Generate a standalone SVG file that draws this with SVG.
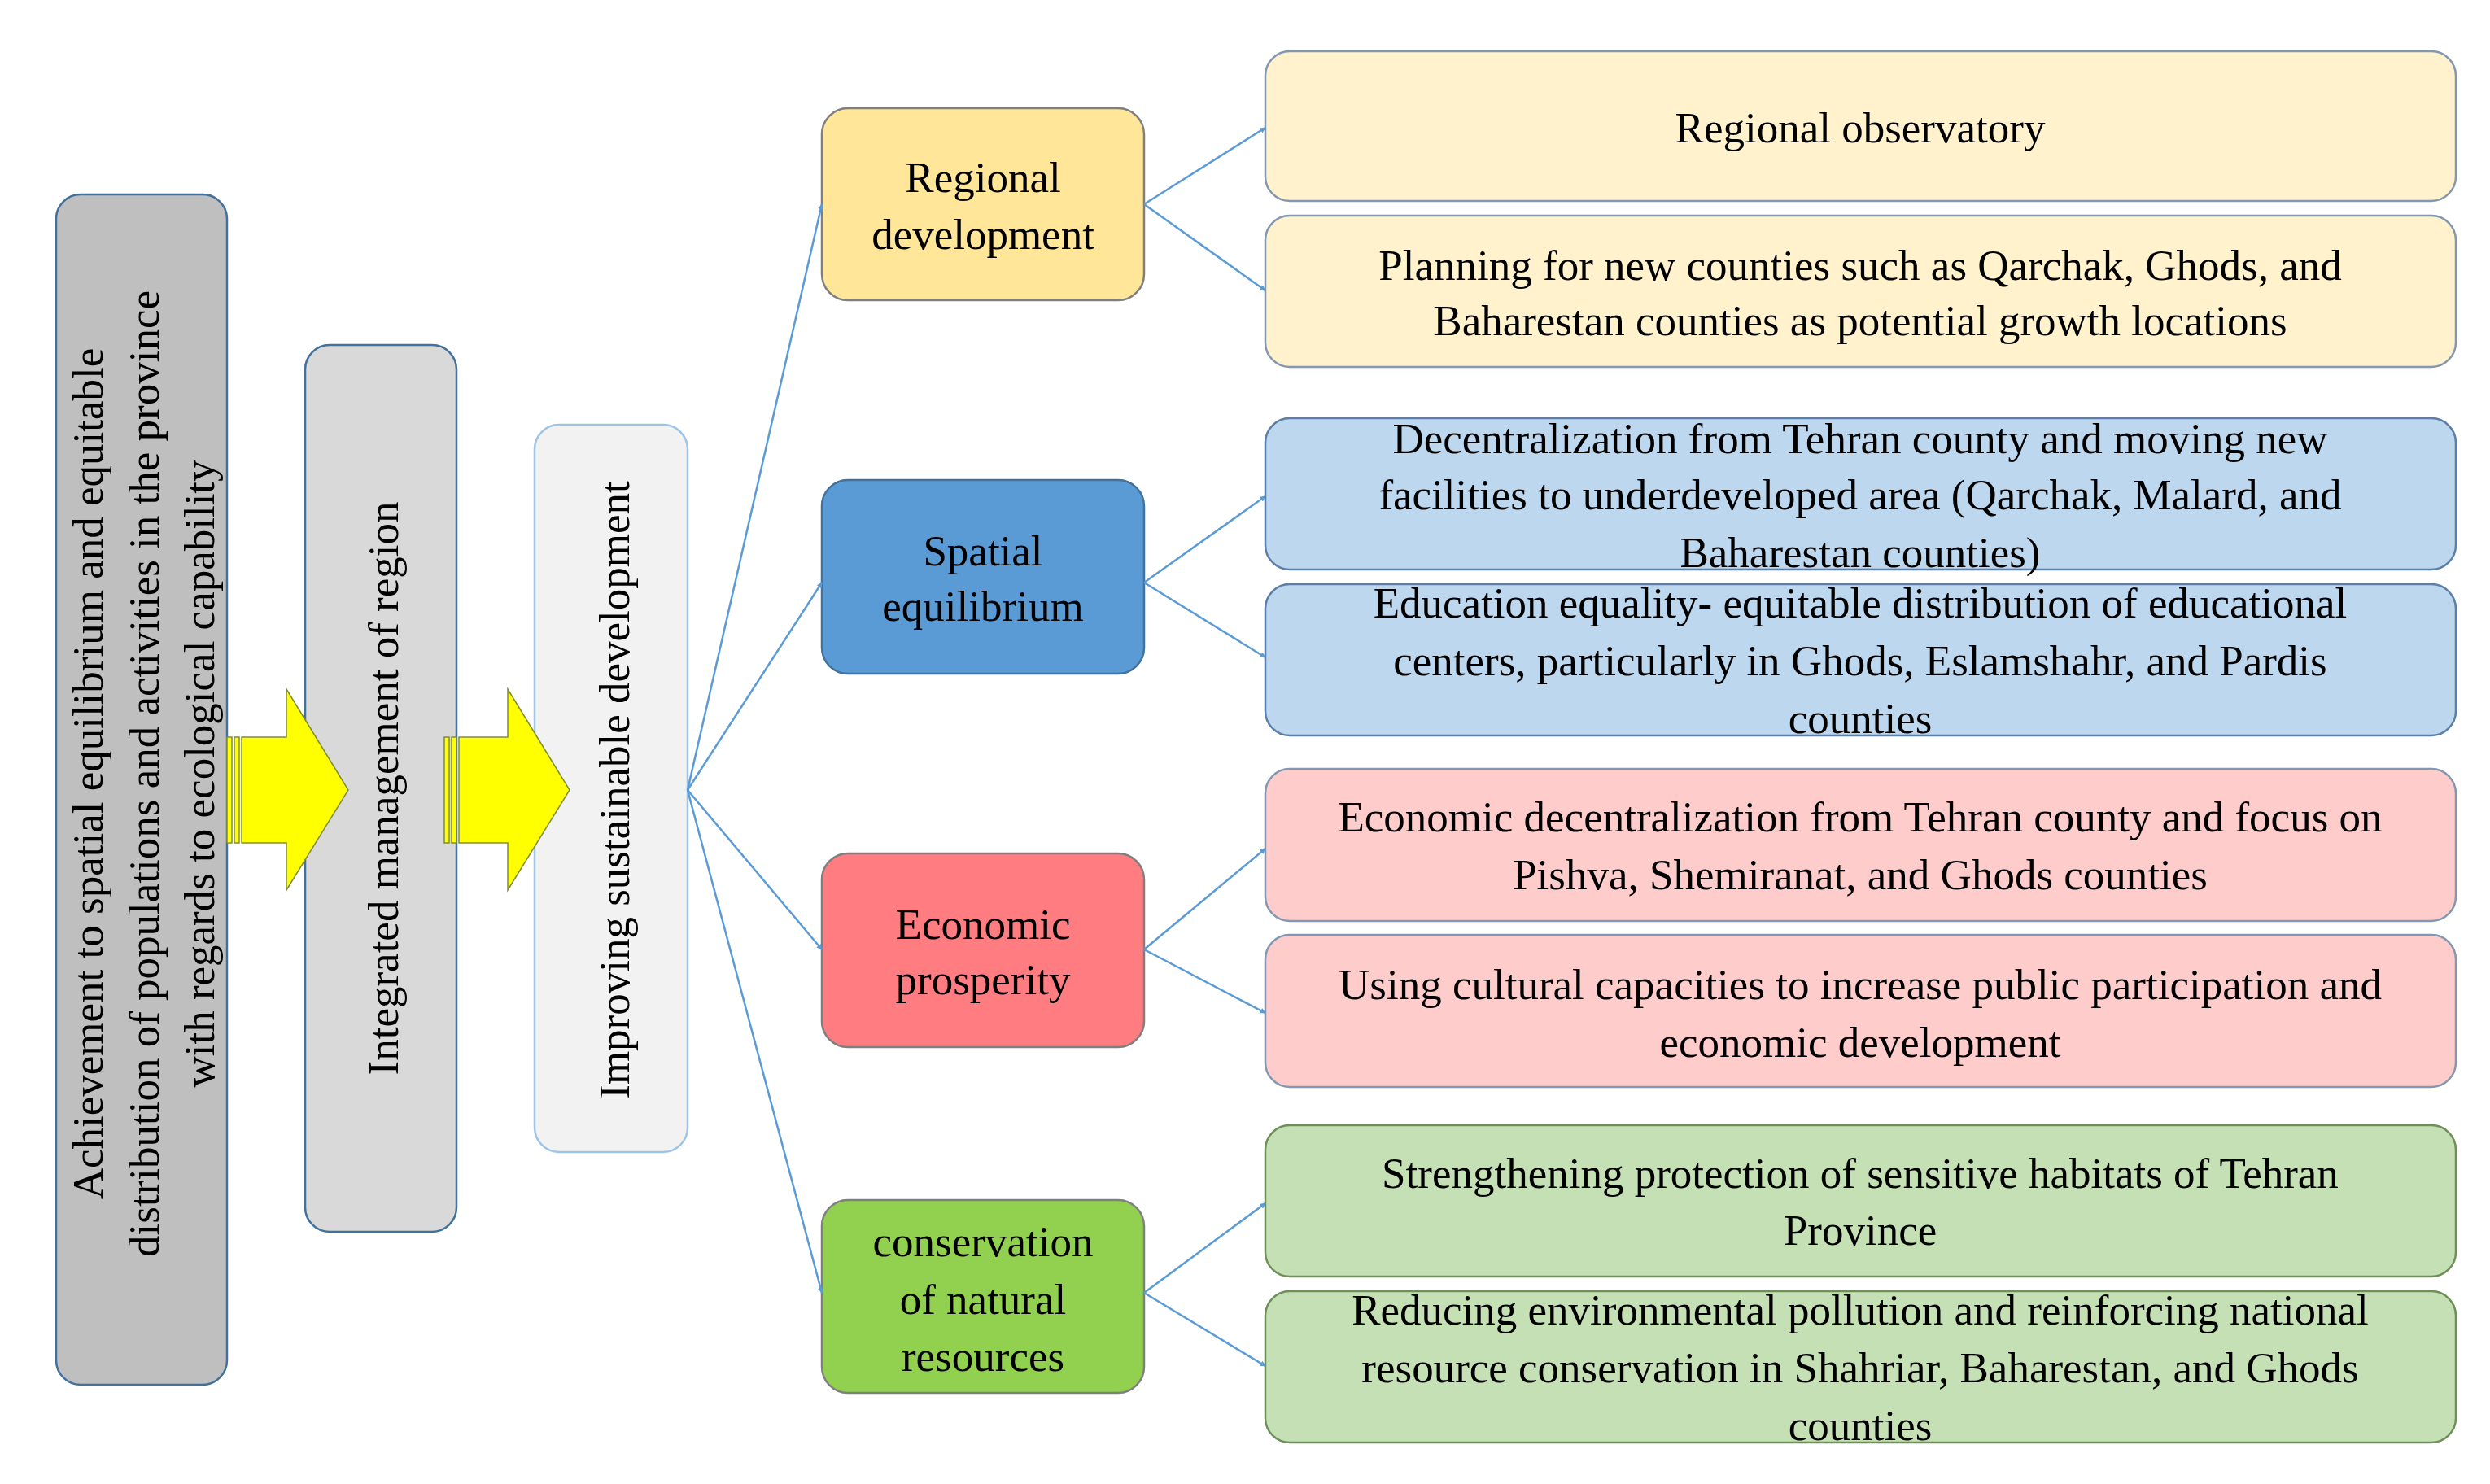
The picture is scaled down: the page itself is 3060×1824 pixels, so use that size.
<svg xmlns="http://www.w3.org/2000/svg" width="3060" height="1824" viewBox="0 0 3060 1824">
<style>
text{font-family:"Liberation Serif","Times New Roman",serif;font-size:53px;fill:#000;text-anchor:middle}
.b{stroke-width:2.5}
.c{stroke:#5b9bd5;stroke-width:2.5;fill:none;marker-end:url(#ah)}
</style>
<defs>
<marker id="ah" viewBox="0 0 10 10" refX="9" refY="5" markerWidth="7" markerHeight="7" orient="auto" markerUnits="userSpaceOnUse"><path d="M0,0 L10,5 L0,10 z" fill="#5b9bd5"/></marker>
<marker id="ah2" viewBox="0 0 10 10" refX="9" refY="5" markerWidth="16" markerHeight="16" orient="auto" markerUnits="userSpaceOnUse"><path d="M0,0 L10,5 L0,10 z" fill="#5b9bd5"/></marker>
</defs>
<rect width="3060" height="1824" fill="#fff"/>
<g id="n1"><rect class="b" x="69" y="239" width="210" height="1463" rx="30" fill="#bfbfbf" stroke="#41719c"/>
<text transform="translate(126,951) rotate(-90)">Achievement to spatial equilibrium  and equitable</text>
<text transform="translate(195,951) rotate(-90)">distribution of populations and activities in the province</text>
<text transform="translate(263,951) rotate(-90)">with regards to ecological capability</text></g>
<g id="n2"><rect class="b" x="375" y="424" width="186" height="1090" rx="30" fill="#d9d9d9" stroke="#41719c"/>
<text transform="translate(489,969) rotate(-90)">Integrated management of region</text></g>
<g id="n3"><rect class="b" x="657" y="522" width="188" height="894" rx="30" fill="#f2f2f2" stroke="#9dc3e6"/>
<text transform="translate(773,971) rotate(-90)">Improving sustainable development</text></g>
<g id="arrows">
<rect x="279" y="906" width="6" height="130" fill="#ffff00" stroke="#7f8c3a" stroke-width="1.5"/>
<rect x="288" y="906" width="6" height="130" fill="#ffff00" stroke="#7f8c3a" stroke-width="1.5"/>
<path d="M297,906 H352 V847 L428,971 L352,1094 V1036 H297 Z" fill="#ffff00" stroke="#7f8c3a" stroke-width="1.5"/>
<rect x="546" y="906" width="6" height="130" fill="#ffff00" stroke="#7f8c3a" stroke-width="1.5"/>
<rect x="555" y="906" width="6" height="130" fill="#ffff00" stroke="#7f8c3a" stroke-width="1.5"/>
<path d="M564,906 H624 V847 L700,971 L624,1094 V1036 H564 Z" fill="#ffff00" stroke="#7f8c3a" stroke-width="1.5"/>
</g>
<g id="n4"><rect class="b" x="1010" y="133" width="396" height="236" rx="32" fill="#ffe699" stroke="#7f7f7f"/>
<text x="1208" y="236">Regional</text><text x="1208" y="306">development</text></g>
<g id="n5"><rect class="b" x="1010" y="590" width="396" height="238" rx="32" fill="#5b9bd5" stroke="#41719c"/>
<text x="1208" y="695">Spatial</text><text x="1208" y="763">equilibrium</text></g>
<g id="n6"><rect class="b" x="1010" y="1049" width="396" height="238" rx="32" fill="#ff7c80" stroke="#7f7f7f"/>
<text x="1208" y="1154">Economic</text><text x="1208" y="1222">prosperity</text></g>
<g id="n7"><rect class="b" x="1010" y="1475" width="396" height="237" rx="32" fill="#92d050" stroke="#7f7f7f"/>
<text x="1208" y="1544">conservation</text><text x="1208" y="1615">of natural</text><text x="1208" y="1685">resources</text></g>
<g id="r1"><rect class="b" x="1555" y="63" width="1463" height="184" rx="30" fill="#fff2cc" stroke="#8497b0"/>
<text x="2286" y="175">Regional observatory</text></g>
<g id="r2"><rect class="b" x="1555" y="265" width="1463" height="186" rx="30" fill="#fff2cc" stroke="#8497b0"/>
<text x="2286" y="344">Planning for new counties such as Qarchak, Ghods, and</text><text x="2286" y="412">Baharestan counties as potential growth locations</text></g>
<g id="r3"><rect class="b" x="1555" y="514" width="1463" height="186" rx="30" fill="#bdd7ee" stroke="#5b7fa8"/>
<text x="2286" y="557">Decentralization from Tehran county and moving new</text><text x="2286" y="626">facilities to underdeveloped area (Qarchak, Malard, and</text><text x="2286" y="697">Baharestan counties)</text></g>
<g id="r4"><rect class="b" x="1555" y="718" width="1463" height="186" rx="30" fill="#bdd7ee" stroke="#5b7fa8"/>
<text x="2286" y="759">Education equality- equitable distribution of educational</text><text x="2286" y="830">centers, particularly in Ghods, Eslamshahr, and Pardis</text><text x="2286" y="901">counties</text></g>
<g id="r5"><rect class="b" x="1555" y="945" width="1463" height="187" rx="30" fill="#ffcccc" stroke="#8497b0"/>
<text x="2286" y="1022">Economic decentralization from Tehran county and focus on</text><text x="2286" y="1093">Pishva, Shemiranat, and Ghods counties</text></g>
<g id="r6"><rect class="b" x="1555" y="1149" width="1463" height="187" rx="30" fill="#ffcccc" stroke="#8497b0"/>
<text x="2286" y="1228">Using cultural capacities to increase public participation and</text><text x="2286" y="1299">economic development</text></g>
<g id="r7"><rect class="b" x="1555" y="1383" width="1463" height="186" rx="30" fill="#c5e0b4" stroke="#6f8f5a"/>
<text x="2286" y="1460">Strengthening protection of sensitive habitats of Tehran</text><text x="2286" y="1530">Province</text></g>
<g id="r8"><rect class="b" x="1555" y="1587" width="1463" height="186" rx="30" fill="#c5e0b4" stroke="#6f8f5a"/>
<text x="2286" y="1628">Reducing environmental pollution and reinforcing national</text><text x="2286" y="1699">resource conservation in Shahriar, Baharestan, and Ghods</text><text x="2286" y="1770">counties</text></g>
<g id="connectors">
<path class="c" d="M845,971 L1010,251"/>
<path class="c" d="M845,971 L1010,716"/>
<path class="c" d="M845,971 L1010,1167"/>
<path class="c" d="M845,971 L1010,1589"/>
<path class="c" d="M1406,251 L1555,157"/>
<path class="c" d="M1406,251 L1555,357"/>
<path class="c" d="M1406,716 L1555,610"/>
<path class="c" d="M1406,716 L1555,808"/>
<path class="c" d="M1406,1167 L1555,1043"/>
<path class="c" d="M1406,1167 L1555,1245"/>
<path class="c" d="M1406,1589 L1555,1479"/>
<path class="c" d="M1406,1589 L1555,1679"/>
</g>
</svg>
